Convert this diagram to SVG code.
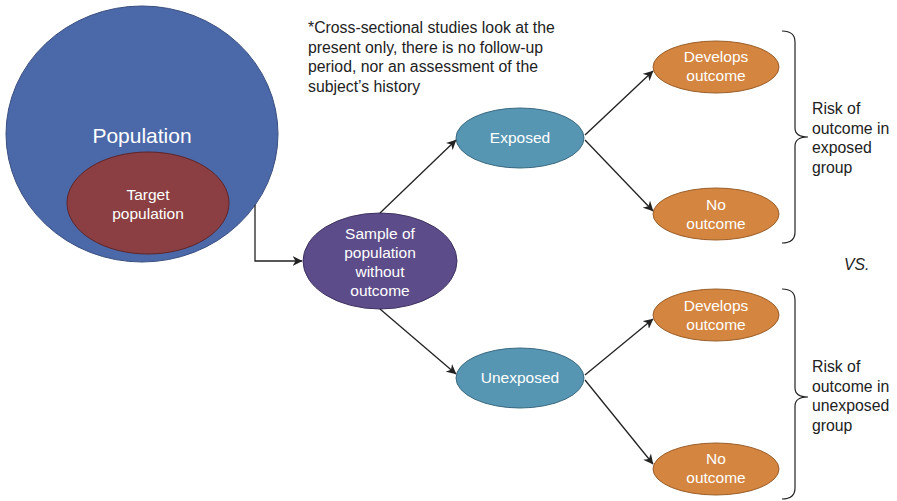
<svg xmlns="http://www.w3.org/2000/svg" width="897" height="501" viewBox="0 0 897 501">
<defs>
<style>
text{font-family:"Liberation Sans",Arial,sans-serif}
.w{fill:#fff;font-size:15.5px;text-anchor:middle}
.k{fill:#222;font-size:15.8px}
.c{stroke:#222;stroke-width:1.3;fill:none}
.b{stroke:#222;stroke-width:1.2;fill:none}
</style>
<marker id="ah" viewBox="0 0 10 10" refX="9.5" refY="5" markerWidth="10" markerHeight="10" markerUnits="userSpaceOnUse" orient="auto">
<path d="M0,0 L10,5 L0,10 L3,5 Z" fill="#222"/>
</marker>
</defs>
<rect width="897" height="501" fill="#fff"/>
<g id="population">
<ellipse cx="142" cy="134" rx="136" ry="128" fill="#4b68a8" stroke="#3a4f80" stroke-width="1"/>
<text x="142" y="143" class="w" style="font-size:21px">Population</text>
</g>
<g id="target">
<ellipse cx="148" cy="203" rx="81" ry="51" fill="#8b3f42" stroke="#5e2528" stroke-width="1"/>
<text x="148" y="200" class="w">Target</text>
<text x="148" y="219" class="w">population</text>
</g>
<g id="sample">
<ellipse cx="380" cy="261" rx="77" ry="48" fill="#5d4c8a" stroke="#3d3260" stroke-width="1"/>
<text x="380" y="239" class="w">Sample of</text>
<text x="380" y="258" class="w">population</text>
<text x="380" y="277" class="w">without</text>
<text x="380" y="296" class="w">outcome</text>
</g>
<g id="exposed">
<ellipse cx="520" cy="138" rx="64" ry="30" fill="#5796b3" stroke="#3c6a80" stroke-width="1"/>
<text x="520" y="143" class="w">Exposed</text>
</g>
<g id="unexposed">
<ellipse cx="520" cy="378" rx="64" ry="30" fill="#5796b3" stroke="#3c6a80" stroke-width="1"/>
<text x="520" y="383" class="w">Unexposed</text>
</g>
<g id="exp-develops">
<ellipse cx="716" cy="67" rx="63" ry="26" fill="#d4853f" stroke="#9a5e2a" stroke-width="1"/>
<text x="716" y="62" class="w">Develops</text>
<text x="716" y="81" class="w">outcome</text>
</g>
<g id="exp-no">
<ellipse cx="716" cy="214" rx="63" ry="26" fill="#d4853f" stroke="#9a5e2a" stroke-width="1"/>
<text x="716" y="210" class="w">No</text>
<text x="716" y="229" class="w">outcome</text>
</g>
<g id="unexp-develops">
<ellipse cx="716" cy="315" rx="63" ry="26" fill="#d4853f" stroke="#9a5e2a" stroke-width="1"/>
<text x="716" y="311" class="w">Develops</text>
<text x="716" y="330" class="w">outcome</text>
</g>
<g id="unexp-no">
<ellipse cx="716" cy="469" rx="63" ry="26" fill="#d4853f" stroke="#9a5e2a" stroke-width="1"/>
<text x="716" y="464" class="w">No</text>
<text x="716" y="483" class="w">outcome</text>
</g>
<g id="connectors">
<path class="c" d="M255,205 V261 H302" marker-end="url(#ah)"/>
<path class="c" d="M380,213 L456,140" marker-end="url(#ah)"/>
<path class="c" d="M380,309 L456,374" marker-end="url(#ah)"/>
<path class="c" d="M585,135 L653,71" marker-end="url(#ah)"/>
<path class="c" d="M585,140 L653,211" marker-end="url(#ah)"/>
<path class="c" d="M585,375 L653,319" marker-end="url(#ah)"/>
<path class="c" d="M585,380 L653,464" marker-end="url(#ah)"/>
</g>
<g id="note">
<text class="k" x="308" y="33">*Cross-sectional studies look at the</text>
<text class="k" x="308" y="53">present only, there is no follow-up</text>
<text class="k" x="308" y="72">period, nor an assessment of the</text>
<text class="k" x="308" y="92">subject’s history</text>
</g>
<g id="brace-exposed">
<path class="b" d="M782,31 Q795,31 795,42 V128 Q795,137 808,137 Q795,137 795,146 V232 Q795,243 782,243"/>
<text class="k" x="812" y="114">Risk of</text>
<text class="k" x="812" y="134">outcome in</text>
<text class="k" x="812" y="153">exposed</text>
<text class="k" x="812" y="173">group</text>
</g>
<text id="vs" class="k" x="844" y="270" font-style="italic">VS.</text>
<g id="brace-unexposed">
<path class="b" d="M782,289 Q795,289 795,300 V388 Q795,397 808,397 Q795,397 795,406 V488 Q795,499 782,499"/>
<text class="k" x="812" y="372">Risk of</text>
<text class="k" x="812" y="392">outcome in</text>
<text class="k" x="812" y="411">unexposed</text>
<text class="k" x="812" y="431">group</text>
</g>
</svg>
